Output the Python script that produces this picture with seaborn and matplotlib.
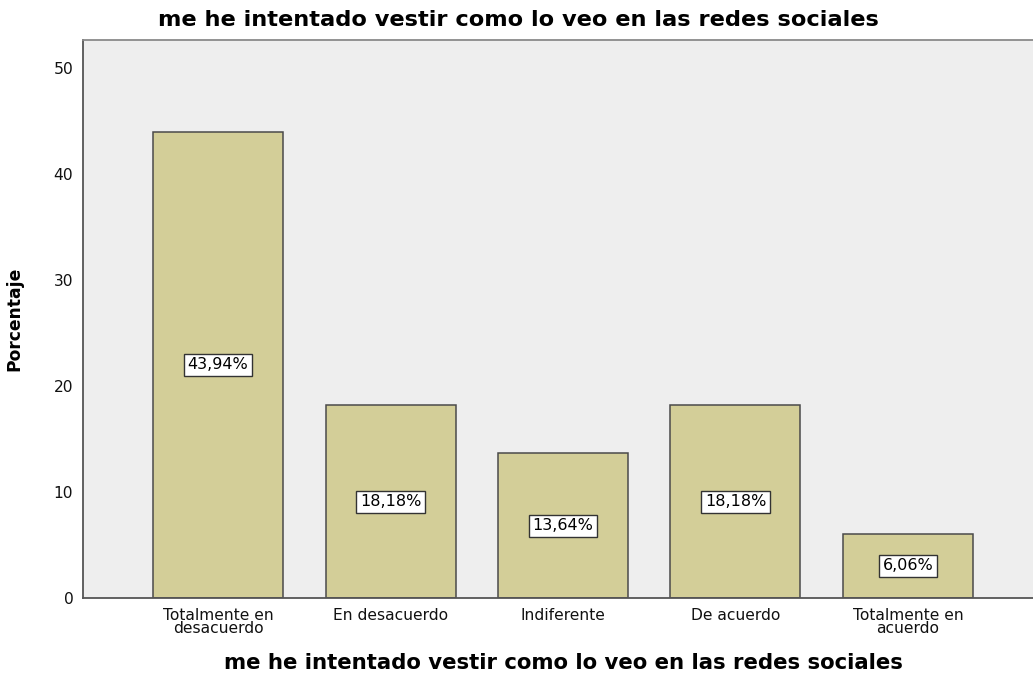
import numpy as np
import pandas as pd
import matplotlib
matplotlib.use("Agg")
import matplotlib.pyplot as plt
import seaborn as sns

# =========================
# Data
# =========================
categorias = ["Totalmente en desacuerdo", "En desacuerdo", "Indiferente",
              "De acuerdo", "Totalmente en acuerdo"]
etiquetas_x = ["Totalmente en\ndesacuerdo", "En desacuerdo", "Indiferente",
               "De acuerdo", "Totalmente en\nacuerdo"]
porcentajes = [43.94, 18.18, 13.64, 18.18, 6.06]
ticks_y = [0, 10, 20, 30, 40, 50]
titulo = "me he intentado vestir como lo veo en las redes sociales"

df = pd.DataFrame({"categoria": categorias, "porcentaje": porcentajes})

sns.set_style("white")
plt.rcParams["font.family"] = ["DejaVu Sans"]
plt.rcParams["text.color"] = "black"
plt.rcParams["axes.labelcolor"] = "black"

fig = plt.figure(figsize=(10.33, 6.74), dpi=100)
ax = fig.add_axes([83 / 1033, 76 / 674, 960 / 1033, 558 / 674])
ax.set_facecolor("#eeeeee")

sns.barplot(data=df, x="categoria", y="porcentaje", color="#d3ce98",
            saturation=1, width=0.754, edgecolor="#4a4a4a", linewidth=1.1,
            ax=ax)

ax.set_xlim(-0.783, 4.783)
ax.set_ylim(0, 52.6)
ax.set_yticks(ticks_y)
ax.set_xticks(range(len(categorias)))
ax.set_xticklabels(etiquetas_x, fontsize=11.2, linespacing=0.85)
ax.tick_params(axis="both", direction="out", length=5, width=1.2,
               color="#3a3a3a", labelsize=11.2, labelcolor="#111111", pad=2)

for lado in ["left", "bottom"]:
    ax.spines[lado].set_color("#555555")
    ax.spines[lado].set_linewidth(1.3)
ax.spines["top"].set_color("#8a8a8a")
ax.spines["top"].set_linewidth(1.3)
ax.spines["right"].set_visible(False)

# value labels in white boxes at mid height of each bar
for i, v in enumerate(porcentajes):
    txt = f"{v:.2f}%".replace(".", ",")
    ax.text(i, v / 2, txt, ha="center", va="center", fontsize=11.5,
            color="black",
            bbox=dict(boxstyle="square,pad=0.22", facecolor="white",
                      edgecolor="#333333", linewidth=1))

ax.set_ylabel("Porcentaje", fontsize=12.3, fontweight="bold", labelpad=22)
ax.set_xlabel(titulo, fontsize=15.3, fontweight="bold", labelpad=12)
fig.text(518 / 1033, 1 - 20 / 674, titulo, ha="center", va="center",
         fontsize=16.2, fontweight="bold")

fig.savefig("out.png", dpi=100)
